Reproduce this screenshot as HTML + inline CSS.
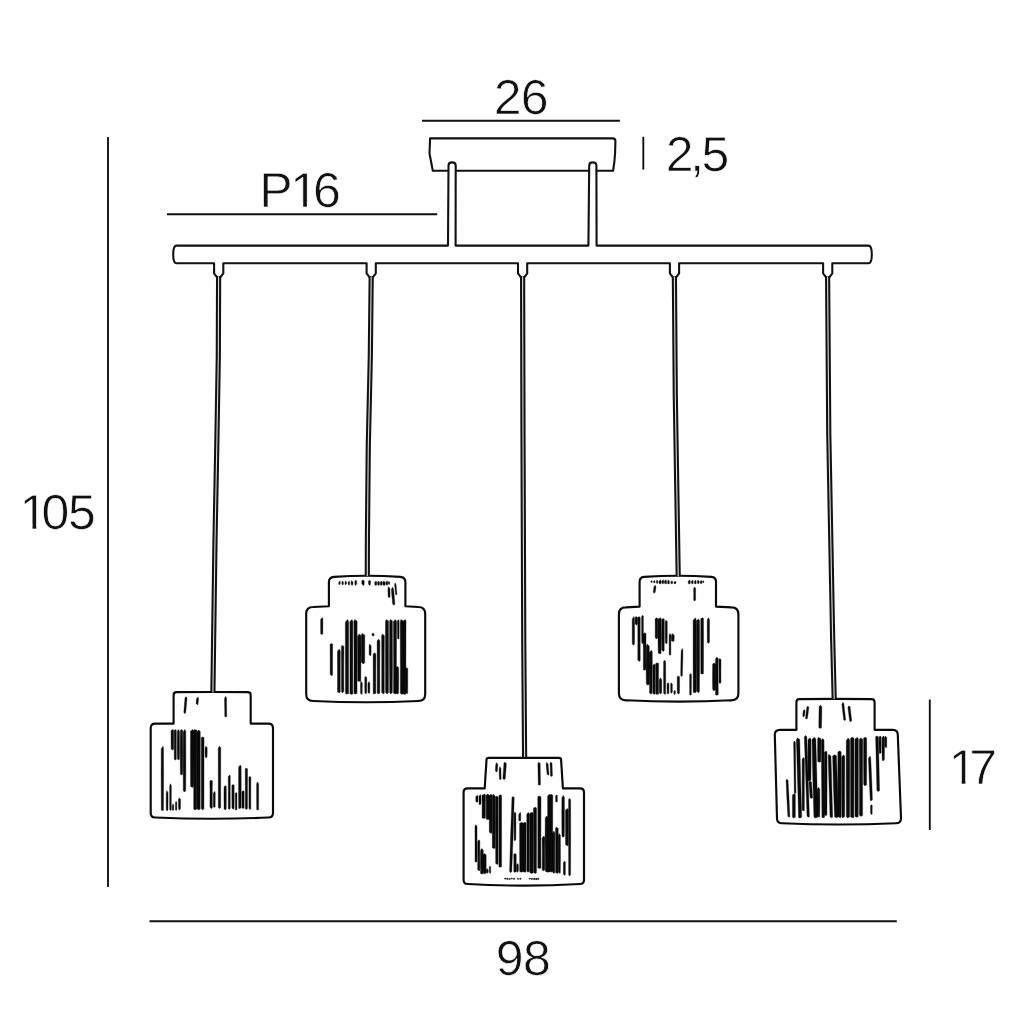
<!DOCTYPE html>
<html lang="en"><head><meta charset="utf-8"><title>Pendant lamp dimensions</title>
<style>html,body{margin:0;padding:0;background:#fff}body{width:1024px;height:1024px;overflow:hidden;font-family:"Liberation Sans",sans-serif}svg{display:block}
.d{font-family:"Liberation Sans",sans-serif;font-size:50px;fill:#111;stroke:#fff;stroke-width:0.7px;paint-order:fill stroke;stroke-linejoin:round;text-rendering:geometricPrecision}
.l{stroke:#111;stroke-width:1.9;fill:none}.o{stroke:#0a0a0a;stroke-width:2.15;fill:#fff;stroke-linejoin:round}.h{fill:#0a0a0a;stroke:#0a0a0a;stroke-width:0.35;stroke-linejoin:round}
</style></head><body>
<svg width="1024" height="1024" viewBox="0 0 1024 1024">
<rect width="1024" height="1024" fill="#fff"/>
<g class="l">
<path d="M108 137V887"/>
<path d="M167 214.3H437.2"/>
<path d="M422 120.7H619.9"/>
<path d="M643.3 136.8V169.6"/>
<path d="M929.8 699.5V830"/>
<path d="M149.5 921.3H896.8"/>
</g>
<g stroke="#111" stroke-width="2.1" fill="#fff" stroke-linejoin="round">
<path d="M430.1 138.4H612.8Q615.4 138.4 615.4 141L615.1 153Q614.6 162 613.1 170.7H432.8L429.5 153.5Z"/>
<path d="M176.5 245.6H448L448.5 165.8Q448.5 162.4 452.1 162.4Q455.7 162.4 455.7 165.8L455.6 245.6H588.4L589.2 165.8Q589.2 162.4 592.8 162.4Q596.4 162.4 596.4 165.8L596.6 245.6H868.5Q871.8 245.6 871.8 254.4Q871.8 263.2 868.5 263.2H832.3V273.4L829.3 277.4H826.1L823.1 273.4V263.2H679.1V273.4L676.1 277.4H672.9L669.9 273.4V263.2H527.2V273.4L524.2 277.4H521L518 273.4V263.2H375.8V273.4L372.8 277.4H369.6L366.6 273.4V263.2H223.3V273.4L220.3 277.4H217.1L214.1 273.4V263.2H176.5Q173.2 263.2 173.2 254.4Q173.2 245.6 176.5 245.6Z"/>
</g>
<path class="o" d="M173.6 723.6L173.6 695.2Q173.6 692.2 176.6 692.14Q212.15 691.84 247.7 692.14Q250.7 692.2 250.7 695.2L250.7 723.6L268.5 723.6Q273 723.6 273 728.1L273 813Q273 817.5 268.5 817.5Q211.85 820.1 155.2 817.5Q150.7 817.5 150.7 813L150.7 728.1Q150.7 723.6 155.2 723.6Z"/>
<g class="h">
<path d="M185.8 696.85L185.02 697.82L184.38 704.97L183.79 712.25L184.92 713.78L185.69 712.71L186.41 705.15L187.07 697.8ZM198.12 696.91L196.46 698.76L196.24 700.69L196.14 703.58L197.58 705.04L198.05 704L198.41 700.86L198.52 698.53ZM225.57 696.25L224.51 698.43L224.69 709.33L224.78 716.48L225.48 716.88L226.72 716.54L226.62 709.31L226.54 697.98ZM163.03 746.25L161.23 748.67L161.13 776.14L161.28 810.19L162.32 810.62L163.47 810.28L163.62 776.14L163.52 748.19ZM173.13 729.38L171.04 730.56L171.05 739.66L171.1 749.09L172.82 750L173.65 749.27L173.7 739.66L173.71 730.33ZM175.62 729.38L174.17 730.59L174.21 740.29L174.22 759.32L175.3 760L176.28 759.46L176.29 740.29L176.33 730.35ZM178.19 729.38L177.29 731.68L177.18 747.99L177.35 758.93L178.78 760L179.4 759.15L179.57 747.99L179.46 731.22ZM181.18 729.38L180.29 730.39L180.18 751.12L180.35 774.2L181.19 775L182.65 774.36L182.82 751.12L182.71 730.19ZM184.8 729.38L183.22 731.67L183.13 767.12L183.29 790.67L184.37 791.88L185.71 790.91L185.87 767.12L185.78 731.21ZM192.85 729.38L190.47 731.08L190.38 756.94L190.55 786.39L192.47 787.5L193.45 786.61L193.62 756.94L193.53 730.74ZM194.85 729.38L193.59 730.49L193.63 768.21L193.68 808.94L194.9 810L196.82 809.15L196.87 768.21L196.91 730.26ZM198.58 730L196.97 731.72L196.97 758.71L197.05 808.67L198.84 810L200.2 808.93L200.28 758.71L200.28 731.37ZM201.81 736.88L201.22 737.75L201.25 766.21L201.29 808.76L202.47 810L203.96 809L204 766.21L204.03 737.58ZM205.79 746.25L205.1 747.95L205.03 751.23L205.16 756.55L206.08 758.12L207.09 756.86L207.22 751.23L207.15 747.61ZM219.38 746.25L218.22 747.97L218.28 778.4L218.29 807.21L219.56 808.75L220.71 807.52L220.72 778.4L220.78 747.63ZM166.82 790.62L166.23 793.15L166.16 802.07L166.28 810.22L166.78 810.62L167.97 810.3L168.09 802.07L168.02 792.64ZM170.43 783.75L169.61 786.01L169.69 800.17L169.65 809.6L170.58 810.62L171.35 809.81L171.31 800.17L171.39 785.56ZM173 803.75L172.24 805.58L172.26 806.87L172.27 809.99L173.01 810.62L173.73 810.11L173.74 806.87L173.76 805.21ZM176.02 801.25L175.36 803.02L175.43 805.18L175.4 809.48L176.16 810.62L176.85 809.71L176.82 805.18L176.89 802.67ZM179.06 798.12L178.48 799.24L178.42 805.19L178.53 808.9L179.13 810L180.47 809.12L180.58 805.19L180.52 799.02ZM210.86 780L209.85 781.26L209.97 790.19L209.91 807.34L211.76 808.75L212.34 807.62L212.28 790.19L212.4 781.01ZM214.73 791.25L213.23 793.41L213.26 797.28L213.28 806.8L214.1 807.5L215.22 806.94L215.24 797.28L215.27 792.98ZM225.58 785.62L223.98 786.71L223.93 797.48L224.03 808.97L225.44 810L226.22 809.17L226.32 797.48L226.27 786.49ZM229.83 775L228.23 776.38L228.25 788.97L228.28 808.41L229.39 809.38L230.22 808.6L230.25 788.97L230.27 776.1ZM232.99 784.38L231.85 785.37L231.83 799.25L231.91 807.9L233.4 809.38L234.09 808.19L234.17 799.25L234.15 785.17ZM236.5 792.5L235.23 793.34L235.29 802.32L235.28 809.58L235.89 810L236.97 809.66L236.96 802.32L237.02 793.17ZM240.3 765L238.6 767.02L238.52 787.09L238.66 807.7L239.15 808.75L241.09 807.91L241.23 787.09L241.15 766.62ZM243.14 790.62L241.85 791.83L241.89 800.4L241.91 807.57L242.9 808.75L244.09 807.81L244.11 800.4L244.15 791.59ZM245.73 768.12L245.23 769.03L245.27 793.19L245.28 808.62L245.86 809.38L247.47 808.77L247.48 793.19L247.52 768.85ZM249.58 776.25L248.85 777.61L248.91 788.06L248.91 808.22L249.98 809.75L250.84 808.53L250.84 788.06L250.9 777.34ZM257.23 781.88L256.61 784.26L256.59 793.17L256.66 809.55L257.06 810L258.59 809.64L258.66 793.17L258.64 783.78Z"/>
</g>
<path class="o" d="M328.9 606.2L328.9 582.3Q328.9 577.3 333.9 576.85Q367.15 574.6 400.4 576.85Q405.4 577.3 405.4 582.3L405.4 606.2L418.2 607Q425.2 607 425.2 614L425.2 694Q425.2 701 418.2 701Q365.7 703.6 313.2 701Q306.2 701 306.2 694L306.2 614Q306.2 607 313.2 607Z"/>
<g class="h">
<path d="M339.94 580.88L338.74 582.19L338.78 582.32L338.77 584.06L339.04 584.62L340.23 584.17L340.22 582.32L340.26 581.92ZM342.27 580.88L341.86 582.32L341.79 582.71L341.9 584.19L342.87 585L343.35 584.35L343.46 582.71L343.39 582.03ZM345.58 580.88L344.99 582.32L344.95 582.38L345.02 583.76L345.36 585L346.48 584.01L346.55 582.38L346.51 582.03ZM349.05 580.88L348.11 582.41L348.06 583.17L348.15 584.14L349.16 585.25L349.6 584.36L349.69 583.17L349.64 582.1ZM351.51 580.5L351.11 582.25L351.07 583.17L351.15 584.17L351.93 585.5L352.85 584.44L352.93 583.17L352.89 581.9ZM355.95 580L354.86 581.27L354.78 583L354.9 583.95L355.45 585.5L356.6 584.26L356.72 583L356.64 581.01ZM362.74 580L361.73 581.06L361.84 582.8L361.79 584.11L363.48 585.5L364.21 584.39L364.16 582.8L364.27 580.84ZM369.49 580.25L368.48 581.11L368.5 583.13L368.53 583.99L369.48 585.5L370.47 584.29L370.5 583.13L370.52 580.94ZM375.9 580.88L374.73 582.49L374.77 583.32L374.78 584.73L375.65 585.5L376.72 584.88L376.73 583.32L376.77 582.17ZM378.29 580.88L377.48 582.49L377.56 583.88L377.53 584.58L378.47 585.5L379.47 584.76L379.44 583.88L379.52 582.17ZM381.37 580.88L380.23 582.32L380.14 583.2L380.28 584.58L380.72 585.5L382.22 584.77L382.36 583.2L382.27 582.03ZM383.52 580.88L382.98 582.4L382.97 582.98L383.03 584.98L384.4 585.5L384.97 585.09L385.03 582.98L385.02 582.09ZM387.13 580.88L385.73 582.27L385.72 583.45L385.78 584.42L387.32 585.25L387.72 584.59L387.78 583.45L387.77 581.99ZM388.82 581.25L388.24 582.43L388.25 583.27L388.27 583.98L389.41 584.62L389.73 584.11L389.75 583.27L389.76 582.2ZM388.45 586.51L387.91 588.98L387.98 592.43L388.14 596.82L389.13 597.75L390.08 596.97L390.03 592.39L389.94 588.44ZM392.29 587.12L391.34 589.8L391.82 595.5L392.67 604.06L393.56 605.28L394.87 604.12L394.17 595.29L393.58 589.08ZM395.03 582.76L394.58 585.03L395.06 589.07L395.51 593.95L395.97 595.29L396.99 594.08L396.44 588.93L396.06 584.43ZM322.2 617.5L320.6 619.44L320.62 624.88L320.66 633.82L321.49 634.62L322.84 633.98L322.88 624.88L322.9 619.05ZM331.6 643.38L330.1 644.25L330.17 657.24L330.16 674.31L331.96 675.88L332.59 674.63L332.58 657.24L332.65 644.08ZM339.25 649L337.47 651.36L337.48 667.04L337.54 692.13L339.55 692.75L340.21 692.26L340.27 667.04L340.28 650.89ZM341.97 645.25L341.35 646.67L341.47 667.26L341.41 691.47L342.11 692.75L343.84 691.72L343.78 667.26L343.9 646.39ZM347.59 619.62L345.34 621.95L345.38 662.4L345.43 693.56L347.02 694L348.57 693.65L348.62 662.4L348.66 621.49ZM351.84 619.62L349.85 621.72L349.92 647.34L349.92 693.67L351.87 694.62L352.83 693.86L352.83 647.34L352.9 621.3ZM354.73 619.62L353.84 621.62L353.99 656.78L353.93 693.41L355.21 694L357.07 693.53L357.01 656.78L357.16 621.22ZM359.28 634L357.59 635.89L357.5 650.68L357.68 681.05L360.19 681.5L360.82 681.14L361 650.68L360.91 635.51ZM362.26 633.38L361.21 635.31L361.2 645.38L361.3 662.42L363.57 664L364.7 662.73L364.8 645.38L364.79 634.93ZM361.03 681.5L360.48 682.92L360.5 688.61L360.53 693.19L361.9 694.62L362.22 693.48L362.25 688.61L362.27 682.63ZM365.27 676.5L364.73 677.62L364.76 687.08L364.78 692.64L365.69 694L366.72 692.91L366.74 687.08L366.77 677.39ZM369.11 681.5L367.98 683.22L367.92 687.47L368.03 692.75L369.24 693.38L369.72 692.87L369.83 687.47L369.77 682.88ZM369.55 644L369.11 646.05L369.12 651.27L369.16 654.49L370.5 655.88L371.09 654.77L371.13 651.27L371.14 645.64ZM372.79 633.12L371.85 634.17L371.93 634.22L371.91 635.26L373.42 636.12L374.09 635.43L374.07 634.22L374.15 633.97ZM374.47 652.75L373.1 654.23L373.19 674.09L373.17 693.32L373.71 694L375.83 693.45L375.81 674.09L375.9 653.94ZM378.45 639L377.1 641.36L377.23 673.9L377.17 692.88L378.05 694L379.83 693.11L379.77 673.9L379.9 640.89ZM382.45 634L381.6 636.04L381.72 658.21L381.67 692.63L383.68 694L384.33 692.91L384.28 658.21L384.4 635.63ZM386.25 619.62L385.47 621.33L385.43 662.16L385.55 692.47L387.16 694L388.45 692.78L388.57 662.16L388.53 620.99ZM390.26 619.62L389.6 621.02L389.48 663.52L389.67 692.44L390.62 694L392.33 692.75L392.52 663.52L392.4 620.74ZM395.42 619.62L393.41 621.6L393.55 666.31L393.49 693.21L395.5 694L396.51 693.37L396.45 666.31L396.59 621.2ZM398.45 619.62L397.36 620.96L397.37 628.34L397.4 638.57L398.68 639L399.1 638.66L399.13 628.34L399.14 620.69ZM397.39 666.5L395.85 667.62L395.76 678.66L395.92 693.03L397.5 694L398.58 693.22L398.74 678.66L398.65 667.39ZM400.91 619.62L400.22 621.4L400.36 667.26L400.3 693.17L401.98 694.62L403.2 693.46L403.14 667.26L403.28 621.04ZM405.18 619.62L402.97 621.35L403.03 649L403.05 693.96L404.98 694.62L405.95 694.1L405.97 649L406.03 621.01ZM406.36 667.75L405.73 668.64L405.73 683.25L405.78 692.41L407.22 694L407.72 692.73L407.77 683.25L407.77 668.46Z"/>
</g>
<path class="o" d="M484.7 788.4L486.5 760Q486.5 757.8 488.7 757.8Q523.8 757.8 558.9 757.8Q561.1 757.8 561.1 760L562.9 788.4L580 788.4Q584 788.4 584 792.4L584 880Q584 884 580 884Q523.8 887.2 467.6 884Q463.6 884 463.6 880L463.6 792.4Q463.6 788.4 467.6 788.4Z"/>
<g class="h">
<path d="M496.49 762.72L495.74 764.5L495.44 768.47L495.36 770.9L496.52 772.14L497.28 771.26L497.54 768.61L497.8 764.28ZM499.84 766.5L499.15 768.95L499.27 774.92L499.39 779.02L500.12 779.63L501.09 779.11L501.05 774.88L500.93 768.43ZM504.57 762.08L503.85 763.78L503.48 769.79L502.86 778.61L503.79 779.61L505.26 778.97L505.92 769.96L506.42 763.61ZM538.85 762.13L537.88 763.84L538.1 776.11L538.28 784.8L539.05 785.26L540.46 784.86L540.36 776.07L540.17 763.46ZM546.65 762.15L546.09 764.68L546.75 770.67L547.06 774.28L548.59 775.21L549.01 774.31L548.61 770.49L548.08 764ZM550.51 762.14L550.03 763.47L550.28 768.58L550.51 775.88L551.19 776.51L552.45 775.94L552.17 768.51L552.06 763.14ZM477.55 795.38L475.73 796.61L475.77 798.59L475.78 801.52L476.84 802.25L477.97 801.67L477.98 798.59L478.02 796.36ZM480.57 794.75L478.98 795.88L478.93 799.93L479.03 804.22L479.54 804.75L480.97 804.32L481.07 799.93L481.02 795.66ZM484.56 794.12L481.96 795.15L482.12 804.67L482.05 817.92L484.14 818.5L485.45 818.04L485.38 804.67L485.54 794.94ZM487.44 794.12L486.09 795.29L486.1 805.85L486.18 819.12L487.83 819.75L489.32 819.24L489.4 805.85L489.41 795.06ZM490.95 794.12L489.22 795.9L489.23 812.39L489.29 832.16L491.35 833.5L491.96 832.43L492.02 812.39L492.03 795.54ZM493.07 794.12L492.22 796.33L492.21 820.39L492.3 847.97L494.64 848.5L495.2 848.07L495.29 820.39L495.28 795.89ZM496.57 796L495.6 797.37L495.6 832.69L495.66 863.28L497.39 864.75L498.09 863.58L498.15 832.69L498.15 797.09ZM500.08 794.75L498.85 795.61L498.86 829.3L498.92 866.75L499.86 867.25L501.58 866.85L501.64 829.3L501.65 795.44ZM475.54 824.75L474.98 826.46L474.98 838.11L475.03 861.54L475.43 862.25L476.97 861.68L477.02 838.11L477.02 826.12ZM478.99 839.75L477.6 841.26L477.67 857.36L477.66 869.64L479.29 871L479.84 869.91L479.83 857.36L479.9 840.96ZM481.67 848.5L480.47 850.42L480.34 863.86L480.54 873.38L481.44 874.12L483.21 873.53L483.41 863.86L483.28 850.04ZM484.03 853.5L483.35 855.08L483.28 864.35L483.42 872.75L484.13 874.12L486.08 873.03L486.22 864.35L486.15 854.76ZM487.1 868.5L486.23 870.22L486.29 870.39L486.28 872.08L486.98 873.5L488.22 872.36L488.21 870.39L488.27 869.88ZM489.93 866L489.24 867.29L489.28 870.76L489.27 872.4L490.28 873.5L490.73 872.62L490.72 870.76L490.76 867.03ZM512.75 796.61L511.95 797.52L510.48 838.82L509.58 871.33L510.52 872.87L511.75 871.7L513 838.9L514.25 797.41ZM515.09 812.25L514.11 813.06L514.05 823.5L514.15 839.47L514.55 841L515.85 839.78L515.95 823.5L515.89 812.9ZM514.57 853.5L513.73 854.37L513.79 860.7L513.79 871.83L514.55 872.25L516.21 871.91L516.21 860.7L516.27 854.2ZM517.24 863.5L516.61 864.96L516.52 868.54L516.65 870.89L517.11 872.25L518.35 871.16L518.48 868.54L518.39 864.67ZM520.35 812.25L518.73 814.55L518.71 816.17L518.78 820.58L519.31 821L520.72 820.66L520.79 816.17L520.77 814.09ZM521.57 822.25L519.59 823.28L519.61 842.78L519.68 871.45L521.26 872.25L522.82 871.61L522.89 842.78L522.91 823.07ZM525.11 822.25L522.72 823.2L522.75 841.7L522.8 871.61L525.17 872.25L525.95 871.74L526 841.7L526.03 823.01ZM528.19 812.25L526.72 814.49L526.8 833.67L526.79 871.2L527.89 872.25L529.46 871.41L529.45 833.67L529.53 814.04ZM531.78 812.25L529.84 813.19L529.91 849.01L529.93 872.7L531.99 873.5L533.07 872.86L533.09 849.01L533.16 813ZM535.21 807.25L533.47 808.07L533.4 834.9L533.55 872.56L535.4 873.5L536.45 872.75L536.6 834.9L536.53 807.9ZM538.42 796L537.72 796.88L537.84 842.49L537.8 867.91L539.68 868.5L540.95 868.03L540.91 842.49L541.03 796.7ZM543.78 836L542.1 837.96L542.23 850.74L542.17 869.45L542.98 871L544.83 869.76L544.77 850.74L544.9 837.57ZM546.3 816L545.22 818.23L545.09 837L545.3 871.23L547.1 872.25L548.45 871.43L548.66 837L548.53 817.78ZM549.51 794.12L547.6 796.05L547.62 840.51L547.67 871.62L548.36 872.25L550.33 871.75L550.38 840.51L550.4 795.66ZM550.88 794.12L550.23 795.44L550.29 837.13L550.29 870.97L551.31 872.25L552.71 871.23L552.71 837.13L552.77 795.17ZM553.83 831L552.6 833.51L552.69 855.67L552.66 872.14L553.89 873.5L554.84 872.41L554.81 855.67L554.9 833.01ZM557 794.75L555.61 795.83L555.63 798.45L555.65 801.59L556.86 802.25L557.35 801.72L557.37 798.45L557.39 795.62ZM556.44 827.25L555.47 828.37L555.57 850.69L555.54 872.59L557.55 873.5L558.21 872.77L558.18 850.69L558.28 828.14ZM559.29 833.5L558.36 835.93L558.28 859.41L558.41 872L559.87 873.5L560.34 872.3L560.47 859.41L560.39 835.44ZM563.3 795.38L561.85 797.79L561.78 822.52L561.91 836.21L562.99 837.25L564.34 836.42L564.47 822.52L564.4 797.31ZM564.61 861L563.36 862.69L563.35 867.25L563.41 874.37L564.33 875.38L565.34 874.57L565.4 867.25L565.39 862.35ZM567.32 808.5L565.47 810.12L565.53 831.28L565.54 844.5L567.29 846L568.21 844.8L568.22 831.28L568.28 809.8ZM569.1 798.5L568.61 799.85L568.54 830.15L568.66 874.61L569.17 876L570.59 874.89L570.71 830.15L570.64 799.58ZM505.31 878.08L504.33 878.59L504.42 878.69L504.41 879L505.65 879.26L506.05 878.94L505.98 878.56L506.04 878.36ZM507.22 878L506.54 878.63L506.58 878.68L506.62 879.22L507.63 879.66L508.27 879.22L508.24 878.59L508.27 878.41ZM509.39 878.34L508.96 878.77L508.94 878.92L508.95 879.25L509.65 879.74L510.32 879.48L510.4 879.07L510.43 878.83ZM512.02 877.99L510.89 878.25L510.94 878.4L510.88 878.64L511.14 879.02L512.47 878.91L512.48 878.59L512.58 878.38ZM513.97 877.92L513.16 878.62L513.21 878.79L513.25 879.25L514.18 879.72L514.68 879.24L514.64 878.68L514.65 878.37ZM517.73 878.14L517.27 878.58L517.28 878.65L517.27 879.07L517.87 879.55L518.88 879.31L518.95 878.82L518.99 878.65ZM520.88 878.02L519.64 878.49L519.67 878.65L519.64 879.04L520.21 879.55L521.08 879.23L521.11 878.75L521.17 878.48ZM529.41 878.06L528.84 878.55L528.82 878.75L528.93 878.96L529.37 879.28L530.59 878.84L530.65 878.54L530.57 878.26ZM531.66 878.21L530.91 878.74L530.88 878.9L530.98 879.23L531.43 879.65L532.66 879.27L532.74 878.84L532.69 878.58ZM534.16 878.04L533.27 878.74L533.27 879.23L533.35 879.38L534.5 879.87L535.12 879.39L535.18 879.13L535.12 878.51ZM536.21 877.95L535.52 878.67L535.58 879.13L535.59 879.41L536.04 879.93L537.05 879.46L537.04 879.07L537.05 878.46ZM538.29 877.94L537.34 878.59L537.42 878.7L537.38 879.23L538.16 879.77L538.97 879.33L538.92 878.69L539 878.45Z"/>
</g>
<path class="o" d="M639.6 606.6L639.6 581.8Q639.6 577.3 644.1 576.85Q677.8 574.6 711.5 576.85Q716 577.3 716 581.8L716 606.6L731.4 607.4Q738.4 607.4 738.4 614.4L738.4 693.3Q738.4 700.3 731.4 700.3Q678.65 702.9 625.9 700.3Q618.9 700.3 618.9 693.3L618.9 614.4Q618.9 607.4 625.9 607.4Z"/>
<g class="h">
<path d="M651.17 580.5L650.74 581.29L650.78 581.31L650.77 582.08L651.8 582.75L652.23 582.21L652.22 581.31L652.26 581.13ZM654.51 580.25L653.61 581.21L653.55 581.78L653.64 582.59L654.24 583L654.86 582.67L654.95 581.78L654.89 581.02ZM656.95 580L656.36 581.31L656.43 582.26L656.4 582.86L657.28 583.75L657.85 583.04L657.82 582.26L657.89 581.05ZM660.53 579.75L658.98 581.24L658.89 581.37L659.03 583.47L660.5 584L660.97 583.57L661.11 581.37L661.02 580.94ZM663.32 579.75L661.73 581.24L661.73 582.41L661.78 582.73L662.89 584L663.72 582.98L663.77 582.41L663.77 580.94ZM665.81 579.75L664.48 580.89L664.44 582.28L664.53 583.29L666.05 584L666.47 583.43L666.56 582.28L666.52 580.66ZM668.27 579.75L667.61 581.24L667.58 581.66L667.65 583.55L668.25 584L669.35 583.64L669.42 581.66L669.39 580.94ZM671.64 580.88L670.73 581.97L670.78 582.4L670.78 583.06L671.7 584L672.72 583.25L672.72 582.4L672.77 581.75ZM675.19 581.25L673.98 582.21L673.91 582.25L674.03 583.17L674.61 584L675.97 583.34L676.09 582.25L676.02 582.02ZM689.84 580L688.23 581.08L688.2 582.05L688.28 583.33L688.94 584L690.22 583.47L690.3 582.05L690.27 580.87ZM692.57 580L691.36 581.4L691.39 582.41L691.4 583.17L692.67 584L693.1 583.34L693.11 582.41L693.14 581.12ZM695.32 580L694.36 581.4L694.34 581.55L694.4 583.53L695.73 584L696.1 583.62L696.16 581.55L696.14 581.12ZM697.89 580L697.36 581.12L697.39 582.17L697.4 582.83L698.12 584L699.1 583.06L699.11 582.17L699.14 580.9ZM701.24 580.25L700.11 581.48L700.08 581.68L700.15 583.34L700.8 583.75L701.85 583.42L701.92 581.68L701.89 581.23ZM703.42 580.5L702.61 581.38L702.64 581.42L702.64 582.25L702.9 583L703.86 582.4L703.86 581.42L703.89 581.2ZM655.13 585.23L653.98 586.8L653.7 588.63L653.26 591.81L653.94 593.37L655.13 592.39L655.71 588.94L656.05 586.77ZM694.57 587.12L693.61 588.46L693.69 592.98L693.66 599.99L694.08 600.88L695.59 600.17L695.56 592.98L695.64 588.2ZM633.96 616.5L632.23 619L632.19 634.43L632.28 644.06L633.46 645.25L634.47 644.3L634.56 634.43L634.52 618.5ZM635.88 616.5L635.1 617.45L635.09 621.73L635.16 623.77L636.55 625.25L637.34 624.06L637.41 621.73L637.4 617.26ZM638.91 616.5L637.73 617.74L637.78 637.82L637.79 660.26L639.65 661.5L640.21 660.51L640.22 637.82L640.27 617.49ZM642.77 615.25L641.61 616.3L641.59 629.86L641.65 642.47L642.79 644L643.35 642.77L643.41 629.86L643.39 616.09ZM644.63 632.75L643.22 634.12L643.34 656.14L643.29 669.46L643.94 670.25L645.96 669.62L645.91 656.14L646.03 633.85ZM647.19 644L646.22 646.49L646.08 667.62L646.3 684.03L647.97 685.25L649.2 684.27L649.42 667.62L649.28 645.99ZM651.35 650.25L649.47 652.29L649.41 665.63L649.54 693.06L650.55 694L652.21 693.25L652.34 665.63L652.28 651.88ZM654.4 664L652.85 665.36L652.92 674.86L652.91 693.58L654.51 694.62L655.09 693.79L655.08 674.86L655.15 665.09ZM657.12 662.75L655.6 663.77L655.65 675.13L655.67 693.76L656.87 694.62L658.58 693.93L658.6 675.13L658.65 663.56ZM660.23 677.75L659.23 680.21L659.27 686.33L659.29 692.84L660.21 694L661.71 693.07L661.73 686.33L661.77 679.72ZM664.24 660.25L663.61 661.62L663.54 673.49L663.66 693.44L665.22 694.62L665.59 693.68L665.71 673.49L665.64 661.35ZM667.93 682.75L667.11 683.58L667.03 687.22L667.15 693.51L667.62 694L668.85 693.61L668.97 687.22L668.89 683.41ZM671.08 682.75L670.61 684.32L670.65 687.34L670.65 691.84L671.15 693.38L672.35 692.15L672.35 687.34L672.39 684.01ZM674.71 690.25L673.86 691.32L673.84 692.01L673.9 693.91L674.35 694.62L675.35 694.05L675.41 692.01L675.39 691.1ZM677.84 675.88L677.23 677L677.16 685.96L677.28 693.06L678.41 694L679.47 693.25L679.59 685.96L679.52 676.77ZM682.26 648.38L681.18 650.73L680.91 660.55L680.67 675.49L681.55 676.5L682.37 675.72L682.8 660.59L682.97 650.3ZM656.53 617.75L655.1 618.9L655.19 625.45L655.17 637.6L656.26 639L657.83 637.88L657.81 625.45L657.9 618.67ZM660.48 617.75L658.1 618.96L657.96 635.19L658.17 653.08L660.04 654L661.08 653.27L661.29 635.19L661.15 618.71ZM663.3 618.38L661.73 619.18L661.69 636.57L661.79 650.14L663.5 651.5L664.21 650.41L664.31 636.57L664.27 619.02ZM665.79 620.25L665.23 621.63L665.23 628.6L665.28 642.75L666.45 644L667.22 643L667.27 628.6L667.27 621.36ZM669.84 633.38L669.11 635.24L669.14 645.41L669.15 654.5L669.72 655.25L670.85 654.65L670.86 645.41L670.89 634.87ZM672.25 633.38L671.35 635.87L671.22 636.4L671.42 640.9L672.79 641.5L674.08 641.02L674.28 636.4L674.15 635.37ZM690.76 673.38L689.61 674.86L689.6 683.38L689.65 694.66L690.08 695.25L691.35 694.77L691.4 683.38L691.39 674.57ZM695.51 617.75L693.1 620.28L693.08 662.74L693.17 692.29L694.13 692.75L696.08 692.38L696.17 662.74L696.15 619.78ZM698.31 619L696.47 620.69L696.35 656.61L696.55 691.22L698.5 692.75L699.45 691.52L699.65 656.61L699.53 620.35ZM702.94 617.75L700.72 618.6L700.68 639.34L700.79 673.59L701.74 674L703.46 673.67L703.57 639.34L703.53 618.43ZM708.19 617.75L707.23 619.98L707.24 632.04L707.28 642.04L708.27 643.38L709.47 642.31L709.51 632.04L709.52 619.54ZM713.85 662.75L712.6 664.25L712.48 680.89L712.67 689.36L713.71 690.88L715.33 689.67L715.52 680.89L715.4 663.95ZM716.83 657.12L715.47 658.88L715.55 673.39L715.54 694.71L716.17 695.25L718.21 694.82L718.2 673.39L718.28 658.53ZM719.62 658.38L718.98 659.67L719.06 670.96L719.03 682.7L719.96 683.38L720.97 682.83L720.94 670.96L721.02 659.41Z"/>
</g>
<path class="o" d="M796.4 729.8L796.4 702.2Q796.4 699.2 799.4 699.11Q835.5 698.66 871.6 699.11Q874.6 699.2 874.6 702.2L874.6 729.8L892.8 729.8Q897.8 729.8 897.8 734.8L901 818.2Q901 823.2 896 823.2Q839 825.8 782 823.2Q777 823.2 777 818.2L774.8 734.8Q774.8 729.8 779.8 729.8Z"/>
<g class="h">
<path d="M804.62 709.79L803.27 710.62L802.87 713.96L802.81 715.63L803.24 717.22L804.47 716.11L804.77 714.15L805.06 710.61ZM807.73 705.97L806.82 707.21L806.12 712.59L805.51 718.19L805.81 719.05L807.42 718.59L808.21 712.85L808.88 707.19ZM820.13 705.37L819.07 706.85L818.89 717.82L818.81 727.59L820.24 728.5L821.47 727.81L821.71 717.87L821.88 706.6ZM842.95 702.21L841.84 704.29L842.88 713.27L843.74 720.04L844.5 720.4L845.67 719.91L844.93 713.03L843.82 703.67ZM848.87 706L847.84 707.02L848.89 715.18L849.59 721.08L850.41 721.67L851.77 720.96L851.03 714.92L850.1 706.57ZM786.6 779.14L786.06 780.71L786.72 796.07L787.87 816.53L789.36 817.23L789.81 816.59L788.94 795.97L788.08 780.3ZM794.53 741L793.62 742.46L793.98 768.11L794.27 792.87L794.76 793.5L795.97 792.97L795.67 768.09L795.41 742.15ZM794.55 793.5L792.35 795.09L792.37 805.47L792.42 817.11L793.51 817.88L795.33 817.27L795.38 805.47L795.4 794.77ZM797.37 737.89L796.39 739.8L797.69 785.5L798.54 817.39L799.35 817.9L801.69 817.41L800.84 785.42L799.7 739.34ZM803.57 757.25L802.1 759.31L802.12 783.34L802.16 810.24L803.82 811L804.34 810.39L804.38 783.34L804.4 758.9ZM805.43 735.38L804.28 737.09L805.72 777.81L807.01 816.31L808.82 817.23L809.43 816.43L808.13 777.72L806.82 736.67ZM809.91 737.88L807.97 739.53L807.88 762.37L808.05 780.39L808.62 781L810.95 780.51L811.12 762.37L811.03 739.2ZM809.81 781.02L808.96 782.53L809.27 787.41L810.1 797.69L811.28 798.51L812.53 797.69L811.88 787.22L811.48 782.06ZM814.27 737.24L812.01 739.38L812.68 775.33L813.92 817.28L815.68 817.88L817.55 817.32L816.84 775.23L815.83 738.87ZM818.38 737.25L817.59 739.21L817.58 751.11L817.68 761.6L819.75 762.25L820.82 761.73L820.92 751.11L820.91 738.82ZM818.27 787.25L817.23 789.31L817.1 802.78L817.29 816.32L819.25 817.25L819.71 816.5L819.9 802.78L819.77 788.9ZM822.66 738.5L821.24 740.38L821.49 769.19L821.91 817.18L823.01 817.88L824.58 817.3L824.24 769.16L824.04 739.99ZM826.2 751L824.48 752.15L824.42 778.06L824.54 814.55L825.73 816L826.96 814.84L827.08 778.06L827.02 751.92ZM828.75 754.15L828.16 756.42L828.98 783.41L830.01 816.94L831.87 817.86L832.68 817.06L831.74 783.33L830.95 755.89ZM834.67 754.75L832.63 756.1L833.29 783.07L834.53 817.02L836.62 817.87L838.17 817.09L837.39 782.94L836.44 755.73ZM839.63 751L837.84 751.9L837.76 788.97L837.93 816.57L840.44 817.88L841.07 816.83L841.24 788.97L841.16 751.72ZM843.67 754.75L841.72 756.73L841.76 793.11L841.8 816.49L842.62 817.88L844.7 816.77L844.74 793.11L844.78 756.33ZM848.16 737.88L846.28 740.47L846.2 778L846.36 816.81L847.51 817.88L849.64 817.02L849.8 778L849.72 739.95ZM851.88 737.25L850.53 738.2L850.56 787.64L850.61 817.05L853.25 817.88L853.89 817.21L853.94 787.64L853.97 738.01ZM857.38 737.25L854.9 739.34L854.86 772.12L854.99 816.54L856.48 817.25L858.26 816.68L858.39 772.12L858.35 738.92ZM860.69 737.88L859.28 739.6L859.43 776.64L859.36 815.03L860.91 816.62L862.64 815.35L862.57 776.64L862.72 739.26ZM865.09 737.25L863.6 738.09L863.54 754.9L863.67 784.44L864.94 786L866.58 784.75L866.71 754.9L866.65 737.92ZM870.09 755.98L868.45 758.32L869.48 785.17L870.23 799.81L870.8 801.02L872.42 799.96L871.94 785.07L870.72 757.77ZM871.08 804.75L870.48 805.72L870.56 810.28L870.53 813.25L871.64 814.75L872.22 813.55L872.19 810.28L872.27 805.52ZM876.49 736.01L875.62 736.94L876.24 762.46L876.89 790.6L878.42 791.62L879.56 790.75L878.95 762.4L878.42 736.7ZM880.05 736L879.11 737.01L879 742.67L879.16 753.03L879.74 753.5L881.09 753.12L881.25 742.67L881.14 736.8ZM883.54 736L882.1 737.35L882 751.19L882.16 759.62L882.88 761L884.34 759.9L884.5 751.19L884.4 737.08ZM885.31 736L884.73 737.92L884.76 742.77L884.78 746.6L886.19 747.88L886.72 746.86L886.74 742.77L886.77 737.54Z"/>
</g>
<g fill="none" stroke-linecap="butt">
<path d="M218.6 276.5L218.3 357L216.8 445L215 540L212.9 692.4" stroke="#111" stroke-width="5.2" stroke-linejoin="round"/>
<path d="M218.6 276.5L218.3 357L216.8 445L215 540L212.9 692.4" stroke="#dedede" stroke-width="1.1" stroke-linejoin="round"/>
<path d="M371.2 276.5L370.3 357L368.3 445L367.4 540L367.3 576" stroke="#111" stroke-width="5.2" stroke-linejoin="round"/>
<path d="M371.2 276.5L370.3 357L368.3 445L367.4 540L367.3 576" stroke="#dedede" stroke-width="1.1" stroke-linejoin="round"/>
<path d="M522.6 276.5L523 435L523.75 640L524.6 757" stroke="#111" stroke-width="5.2" stroke-linejoin="round"/>
<path d="M522.6 276.5L523 435L523.75 640L524.6 757" stroke="#dedede" stroke-width="1.1" stroke-linejoin="round"/>
<path d="M674.4 276.5L675.3 396L678.2 576" stroke="#111" stroke-width="5.2" stroke-linejoin="round"/>
<path d="M674.4 276.5L675.3 396L678.2 576" stroke="#dedede" stroke-width="1.1" stroke-linejoin="round"/>
<path d="M827.6 276.5L828.8 435L832.7 640L834.2 699" stroke="#111" stroke-width="5.2" stroke-linejoin="round"/>
<path d="M827.6 276.5L828.8 435L832.7 640L834.2 699" stroke="#dedede" stroke-width="1.1" stroke-linejoin="round"/>
</g>
<text class="d" transform="translate(0 114) scale(1 0.98)" x="493.74 520.71" y="0">26</text>
<text class="d" transform="translate(0 207) scale(1 0.98)" x="259.3 290.26 312.91" y="0">P16</text>
<rect x="293.26" y="202.54" width="9.93" height="5.26" fill="#fff"/>
<rect x="306.9" y="202.54" width="9.36" height="5.26" fill="#fff"/>
<text class="d" transform="translate(0 171) scale(1 0.98)" x="665.63 690.16 701.55" y="0">2,5</text>
<text class="d" transform="translate(0 529) scale(1 0.98)" x="19.61 41.49 67.95" y="0">105</text>
<rect x="22.61" y="524.54" width="9.93" height="5.26" fill="#fff"/>
<rect x="36.25" y="524.54" width="9.36" height="5.26" fill="#fff"/>
<text class="d" transform="translate(0 784) scale(1 0.98)" x="948.76 969.18" y="0">17</text>
<rect x="951.76" y="779.54" width="9.93" height="5.26" fill="#fff"/>
<rect x="965.4" y="779.54" width="9.36" height="5.26" fill="#fff"/>
<text class="d" transform="translate(0 975) scale(1 0.98)" x="495.8 522.98" y="0">98</text>
</svg></body></html>
